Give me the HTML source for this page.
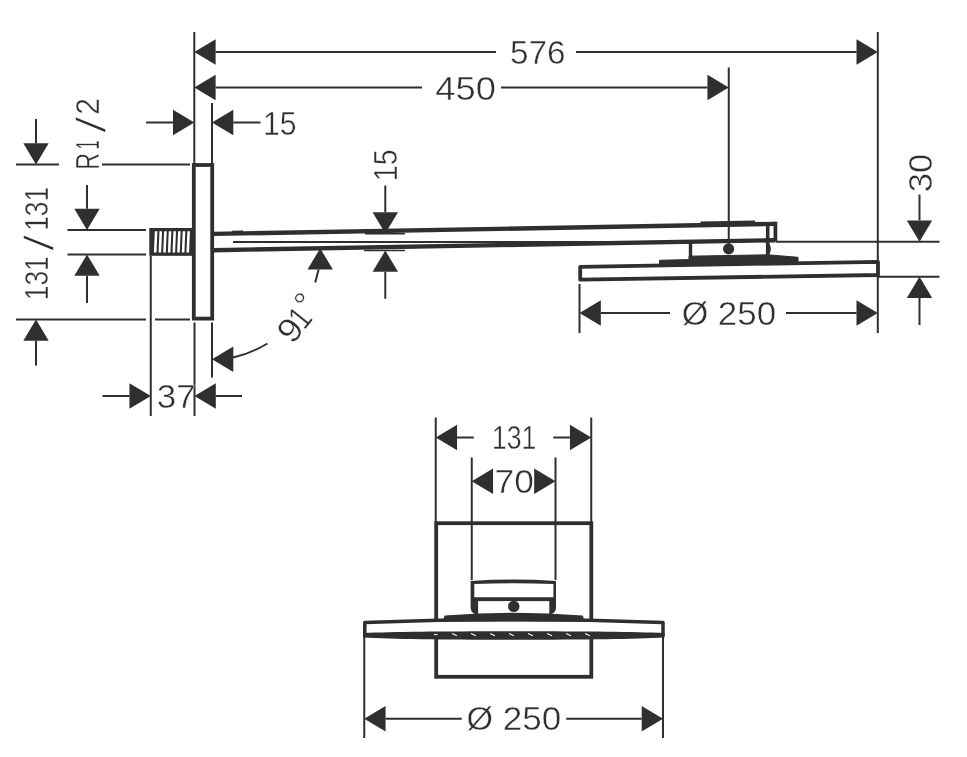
<!DOCTYPE html>
<html lang="en">
<head>
<meta charset="utf-8">
<title>Overhead shower – dimensional drawing</title>
<style>
html,body{margin:0;padding:0;background:#fff;}
body{width:967px;height:757px;overflow:hidden;}
svg{display:block;filter:grayscale(1) blur(0.35px);}
.a{fill:#2f2f2f;stroke:none;}
.t text{font-family:"Liberation Sans",sans-serif;font-size:33.9px;fill:#2f2f2f;stroke:#fff;stroke-width:0.45px;}
</style>
</head>
<body>
<svg width="967" height="757" viewBox="0 0 967 757">
<rect x="0" y="0" width="967" height="757" fill="#fff"/>
<g stroke="#2f2f2f" stroke-width="2.0" fill="none">
<line x1="194.3" y1="32" x2="194.3" y2="164" stroke-width="2"/>
<line x1="877.8" y1="32" x2="877.8" y2="333" stroke-width="2"/>
<line x1="215.6" y1="52" x2="496" y2="52" stroke-width="2"/>
<line x1="576" y1="52" x2="856.5" y2="52" stroke-width="2"/>
<polygon class="a" points="194.3,52 215.6,39.3 215.6,64.7"/>
<polygon class="a" points="877.8,52 856.5,39.3 856.5,64.7"/>
<line x1="215.6" y1="87.5" x2="422" y2="87.5" stroke-width="2"/>
<line x1="501" y1="87.5" x2="707.45" y2="87.5" stroke-width="2"/>
<polygon class="a" points="194.3,87.5 215.6,74.8 215.6,100.2"/>
<polygon class="a" points="728.75,87.5 707.45,74.8 707.45,100.2"/>
<line x1="728.75" y1="67.5" x2="728.75" y2="245" stroke-width="2"/>
<line x1="212" y1="103" x2="212" y2="164" stroke-width="2"/>
<line x1="146" y1="122.5" x2="173" y2="122.5" stroke-width="2"/>
<polygon class="a" points="194.3,122.5 173,109.8 173,135.2"/>
<polygon class="a" points="212,122.5 233.3,109.8 233.3,135.2"/>
<line x1="233.3" y1="122.5" x2="260.5" y2="122.5" stroke-width="2"/>
<line x1="16" y1="164.5" x2="59" y2="164.5" stroke-width="2"/>
<line x1="102" y1="164.5" x2="190" y2="164.5" stroke-width="2"/>
<line x1="36" y1="119" x2="36" y2="143.2" stroke-width="2"/>
<polygon class="a" points="36,164.5 23.3,143.2 48.7,143.2"/>
<line x1="67.5" y1="230" x2="146" y2="230" stroke-width="2"/>
<line x1="67.5" y1="254.5" x2="146" y2="254.5" stroke-width="2"/>
<line x1="87" y1="185" x2="87" y2="208.7" stroke-width="2"/>
<polygon class="a" points="87,230 74.3,208.7 99.7,208.7"/>
<polygon class="a" points="87,254.5 74.3,275.8 99.7,275.8"/>
<line x1="87" y1="275.8" x2="87" y2="303" stroke-width="2"/>
<line x1="16" y1="319.5" x2="146" y2="319.5" stroke-width="2"/>
<line x1="155" y1="319.5" x2="190" y2="319.5" stroke-width="2"/>
<polygon class="a" points="36,319.5 23.3,340.8 48.7,340.8"/>
<line x1="36" y1="340.8" x2="36" y2="365.5" stroke-width="2"/>
<line x1="150.75" y1="256" x2="150.75" y2="416" stroke-width="2"/>
<line x1="194.5" y1="322.5" x2="194.5" y2="416" stroke-width="2"/>
<line x1="212" y1="322.5" x2="212" y2="377.5" stroke-width="2"/>
<line x1="102.5" y1="396" x2="129.45" y2="396" stroke-width="2"/>
<polygon class="a" points="150.75,396 129.45,383.3 129.45,408.7"/>
<polygon class="a" points="194.5,396 215.8,383.3 215.8,408.7"/>
<line x1="215.8" y1="396" x2="242" y2="396" stroke-width="2"/>
<polygon class="a" points="212,359.25 233.3,346.55 233.3,371.95"/>
<path d="M233,357.5 Q252,353 267.5,343.5" fill="none" stroke-width="1.8"/>
<line x1="315.2" y1="282.5" x2="318.6" y2="269.5" stroke-width="2"/>
<polygon class="a" points="320.2,248.3 307.5,269.6 332.9,269.6"/>
<line x1="385.3" y1="185.5" x2="385.3" y2="212.2" stroke-width="2"/>
<polygon class="a" points="385.3,233.5 372.6,212.2 398,212.2"/>
<polygon class="a" points="385.3,250.5 372.6,271.8 398,271.8"/>
<line x1="385.3" y1="271.8" x2="385.3" y2="298.75" stroke-width="2"/>
<line x1="365" y1="233.8" x2="405" y2="233.8" stroke-width="1.5"/>
<line x1="364" y1="250.5" x2="405" y2="250.5" stroke-width="1.5"/>
<line x1="776" y1="241.8" x2="939.5" y2="241.8" stroke-width="2"/>
<line x1="878" y1="276.7" x2="939.5" y2="276.7" stroke-width="2"/>
<line x1="919.5" y1="194.5" x2="919.5" y2="220.45" stroke-width="2"/>
<polygon class="a" points="919.5,241.75 906.8,220.45 932.2,220.45"/>
<polygon class="a" points="919.5,276.7 906.8,298 932.2,298"/>
<line x1="919.5" y1="298" x2="919.5" y2="325" stroke-width="2"/>
<line x1="579.5" y1="284" x2="579.5" y2="333" stroke-width="2"/>
<polygon class="a" points="579.5,313 600.8,300.3 600.8,325.7"/>
<line x1="600.8" y1="313" x2="670" y2="313" stroke-width="2"/>
<line x1="786" y1="313" x2="856.5" y2="313" stroke-width="2"/>
<polygon class="a" points="877.8,313 856.5,300.3 856.5,325.7"/>
</g>
<g stroke="#2f2f2f" stroke-width="3.8" fill="none">
<rect x="193.8" y="165" width="18.4" height="153.6" fill="#fff"/>
<rect x="149.3" y="228" width="44" height="27.8" fill="#2f2f2f" stroke="none"/>
<polygon points="154.8,231.2 157.4,231.2 156.5,252.6 153.9,252.6" fill="#fff" stroke="none"/>
<polygon points="159.45,231.2 162.05,231.2 161.15,252.6 158.55,252.6" fill="#fff" stroke="none"/>
<polygon points="164.1,231.2 166.7,231.2 165.8,252.6 163.2,252.6" fill="#fff" stroke="none"/>
<polygon points="168.75,231.2 171.35,231.2 170.45,252.6 167.85,252.6" fill="#fff" stroke="none"/>
<polygon points="173.4,231.2 176,231.2 175.1,252.6 172.5,252.6" fill="#fff" stroke="none"/>
<polygon points="178.05,231.2 180.65,231.2 179.75,252.6 177.15,252.6" fill="#fff" stroke="none"/>
<polygon points="182.7,231.2 185.3,231.2 184.4,252.6 181.8,252.6" fill="#fff" stroke="none"/>
<polygon points="187.35,231.2 189.95,231.2 189.05,252.6 186.45,252.6" fill="#fff" stroke="none"/>
<line x1="213" y1="233.9" x2="775.4" y2="223.889" stroke-width="4.4"/>
<line x1="213" y1="250.2" x2="775.4" y2="240.189" stroke-width="4.4"/>
<line x1="233" y1="242" x2="655" y2="242" stroke-width="1.9"/>
<line x1="775.4" y1="221.689" x2="775.4" y2="241.6" stroke-width="3.8"/>
<line x1="767.7" y1="224.026" x2="767.7" y2="257" stroke-width="3.6"/>
<line x1="700.5" y1="223.822" x2="755" y2="222.852" stroke-width="4.6"/>
<line x1="232" y1="231.962" x2="243" y2="231.766" stroke-width="2.4"/>
<line x1="690.5" y1="243" x2="690.5" y2="258" stroke-width="3.4"/>
<path d="M768.5,244.5 Q771.2,249 768.5,253.5" fill="none" stroke-width="2"/>
<circle cx="728.6" cy="248.9" r="5.6" fill="#2f2f2f" stroke="none"/>
<polygon points="659.5,260.3 689,259.6 689,256.2 768,254.8 798,257.3 798,263.3 659.5,265.8" fill="#2f2f2f" stroke-width="1" stroke-linejoin="round"/>
<polygon points="580.2,266.9 878,261.8 878,275 580.2,279.6" fill="none" stroke-linejoin="round"/>
</g>
<g stroke="#2f2f2f" stroke-width="2.0" fill="none">
<line x1="435.75" y1="417.5" x2="435.75" y2="522" stroke-width="2"/>
<line x1="591.25" y1="417.5" x2="591.25" y2="522" stroke-width="2"/>
<polygon class="a" points="435.75,437.5 457.05,424.8 457.05,450.2"/>
<line x1="457.05" y1="437.5" x2="473.75" y2="437.5" stroke-width="2"/>
<line x1="553.25" y1="437.5" x2="569.95" y2="437.5" stroke-width="2"/>
<polygon class="a" points="591.25,437.5 569.95,424.8 569.95,450.2"/>
<line x1="471.75" y1="457.5" x2="471.75" y2="580" stroke-width="2"/>
<line x1="555.5" y1="457.5" x2="555.5" y2="580" stroke-width="2"/>
<polygon class="a" points="471.75,481.25 493.05,468.55 493.05,493.95"/>
<polygon class="a" points="555.5,481.25 534.2,468.55 534.2,493.95"/>
<line x1="364.25" y1="622.5" x2="364.25" y2="738" stroke-width="2"/>
<line x1="663" y1="622.5" x2="663" y2="738" stroke-width="2"/>
<polygon class="a" points="364.25,718.75 385.55,706.05 385.55,731.45"/>
<line x1="385.55" y1="718.75" x2="461.75" y2="718.75" stroke-width="2"/>
<line x1="566.25" y1="718.75" x2="641.7" y2="718.75" stroke-width="2"/>
<polygon class="a" points="663,718.75 641.7,706.05 641.7,731.45"/>
</g>
<g stroke="#2f2f2f" stroke-width="3.8" fill="none">
<rect x="436.2" y="523.2" width="155.1" height="153.6" fill="none"/>
<path d="M470.6,581 Q513.5,578.2 556,581 L556,608 Q555.6,612.4 551.6,614 L475,614 Q471,612.4 470.6,608 Z" fill="#2f2f2f" stroke="none"/>
<path d="M474.3,584 Q513.5,582.6 553.4,584 L553.4,597.3 L474.3,597.3 Z" fill="#fff" stroke="none"/>
<rect x="478.1" y="601.1" width="71.2" height="13" fill="#fff" stroke="none"/>
<circle cx="513.75" cy="606.4" r="5.7" fill="#2f2f2f" stroke="none"/>
<path d="M364.2,622.4 Q513.75,616.4 663.4,622.4 L663.4,634.6 Q513.75,640.2 364.2,634.6 Z" fill="#fff" stroke="none"/>
<path d="M364.8,636 L364.8,622.4 Q513.75,616.4 663,622.4 L663,636" fill="none" stroke-width="3.5" stroke-linejoin="round"/>
<path d="M363,633 C395,631.7 436,631.3 513.75,631.2 C591.5,631.3 632.5,631.7 664.6,633 L664.6,637.4 C632.5,639 591.5,639.6 513.75,639.7 C436,639.6 395,639 363,637.4 Z" fill="#2f2f2f" stroke="none"/>
<path d="M445,616.4 Q513.75,610.6 582.4,616.4 L583.2,620.8 L444.2,620.8 Z" fill="#2f2f2f" stroke-width="1.6" stroke-linejoin="round"/>
<line x1="434" y1="634.6" x2="437.5" y2="634.6" stroke="#fff" stroke-width="1"/>
<line x1="452.1" y1="633.6" x2="456.9" y2="635.8" stroke="#fff" stroke-width="1.1"/>
<line x1="471.1" y1="633.6" x2="475.9" y2="635.8" stroke="#fff" stroke-width="1.1"/>
<line x1="490.1" y1="633.6" x2="494.9" y2="635.8" stroke="#fff" stroke-width="1.1"/>
<line x1="509.1" y1="633.6" x2="513.9" y2="635.8" stroke="#fff" stroke-width="1.1"/>
<line x1="528.1" y1="633.6" x2="532.9" y2="635.8" stroke="#fff" stroke-width="1.1"/>
<line x1="547.1" y1="633.6" x2="551.9" y2="635.8" stroke="#fff" stroke-width="1.1"/>
<line x1="566.1" y1="633.6" x2="570.9" y2="635.8" stroke="#fff" stroke-width="1.1"/>
<line x1="585.1" y1="633.6" x2="589.9" y2="635.8" stroke="#fff" stroke-width="1.1"/>
</g>
<g class="t">
<text y="64.1"><tspan x="509.97" textLength="55.51" lengthAdjust="spacingAndGlyphs">576</tspan></text>
<text y="99.5"><tspan x="435.37" textLength="60.57" lengthAdjust="spacingAndGlyphs">450</tspan></text>
<text y="134.5"><tspan x="262.91" textLength="33.57" lengthAdjust="spacingAndGlyphs">15</tspan></text>
<text y="408"><tspan x="156.87" textLength="38.89" lengthAdjust="spacingAndGlyphs">37</tspan></text>
<text y="325.4"><tspan x="681.81" textLength="26.55" lengthAdjust="spacingAndGlyphs">Ø</tspan> <tspan x="717.85" textLength="58.33" lengthAdjust="spacingAndGlyphs">250</tspan></text>
<text y="448.8"><tspan x="491.88" textLength="44.44" lengthAdjust="spacingAndGlyphs">131</tspan></text>
<text y="492.6"><tspan x="494.60" textLength="39.29" lengthAdjust="spacingAndGlyphs">70</tspan></text>
<text y="730"><tspan x="466.41" textLength="26.55" lengthAdjust="spacingAndGlyphs">Ø</tspan> <tspan x="502.85" textLength="58.54" lengthAdjust="spacingAndGlyphs">250</tspan></text>
<text transform="translate(99.2 133) rotate(-90)" y="0"><tspan x="-36.71" textLength="16.81" lengthAdjust="spacingAndGlyphs">R</tspan><tspan x="-16.47" textLength="9.29" lengthAdjust="spacingAndGlyphs">1</tspan><tspan x="-0.60" textLength="17.59" lengthAdjust="spacingAndGlyphs" font-size="43" dy="7.2" style="stroke-width:1.5px">/</tspan><tspan x="18.30" textLength="16.71" lengthAdjust="spacingAndGlyphs" dy="-7.2">2</tspan></text>
<text transform="translate(47.5 243) rotate(-90)" y="0"><tspan x="-57.19" textLength="43.79" lengthAdjust="spacingAndGlyphs">131</tspan><tspan x="-8.50" textLength="17.39" lengthAdjust="spacingAndGlyphs" font-size="43" dy="6" style="stroke-width:1.5px">/</tspan><tspan x="12.21" textLength="43.79" lengthAdjust="spacingAndGlyphs" dy="-6">131</tspan></text>
<text transform="translate(396.5 165) rotate(-90)" y="0"><tspan x="-16.28" textLength="31.89" lengthAdjust="spacingAndGlyphs">15</tspan></text>
<text transform="translate(931.8 173) rotate(-90)" y="0"><tspan x="-19.31" textLength="38.37" lengthAdjust="spacingAndGlyphs">30</tspan></text>
<text transform="translate(310 323.8) rotate(-51.3)" y="0"><tspan x="-27.55" textLength="20.71" lengthAdjust="spacingAndGlyphs">9</tspan><tspan x="-9.00" textLength="15.36" lengthAdjust="spacingAndGlyphs">1</tspan><tspan x="6.80" textLength="14.00" lengthAdjust="spacingAndGlyphs" dy="-5.3">°</tspan></text>
</g>
</svg>
</body>
</html>
